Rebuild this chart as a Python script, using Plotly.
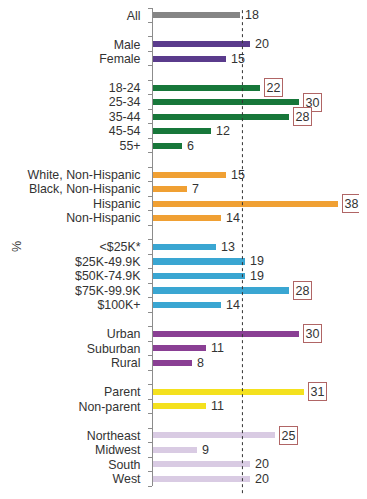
import plotly.graph_objects as go

# ---- data ----
group_labels = [
    ["All"],
    ["Male", "Female"],
    ["18-24", "25-34", "35-44", "45-54", "55+"],
    ["White, Non-Hispanic", "Black, Non-Hispanic", "Hispanic", "Non-Hispanic"],
    ["<$25K*", "$25K-49.9K", "$50K-74.9K", "$75K-99.9K", "$100K+"],
    ["Urban", "Suburban", "Rural"],
    ["Parent", "Non-parent"],
    ["Northeast", "Midwest", "South", "West"],
]
group_values = [
    [18],
    [20, 15],
    [22, 30, 28, 12, 6],
    [15, 7, 38, 14],
    [13, 19, 19, 28, 14],
    [30, 11, 8],
    [31, 11],
    [25, 9, 20, 20],
]
group_colors = ["#858585", "#5a3b8c", "#17773a", "#f0a033", "#3aa6d2",
                "#8a3f94", "#f4e11e", "#d9cbe3"]
average_line = 18.4
highlight_threshold = 22

fig = go.Figure()

pos = 0
tickvals, ticktext = [], []
annotations = []
for gi, (labs, vals, col) in enumerate(zip(group_labels, group_values, group_colors)):
    ys = []
    for lab, v in zip(labs, vals):
        ys.append(pos)
        tickvals.append(pos)
        ticktext.append(lab)
        boxed = v >= highlight_threshold
        annotations.append(dict(
            x=v, y=pos, xref="x", yref="y", text=str(v), showarrow=False,
            xanchor="left", yanchor="middle",
            xshift=4 if boxed else 5,
            font=dict(size=12.5, color="#333333", family="Liberation Sans, Arial"),
            bordercolor="#b06565" if boxed else None,
            borderwidth=1 if boxed else 0,
            borderpad=1.5 if boxed else 0,
            bgcolor="white" if boxed else None,
        ))
        pos += 1
    fig.add_trace(go.Bar(
        x=vals, y=ys, orientation="h", marker=dict(color=col, line=dict(width=0)),
        width=0.42, showlegend=False, hoverinfo="skip",
    ))
    pos += 1  # gap slot

last_slot = tickvals[-1]
minor_vals = [i - 0.5 for i in range(last_slot + 2)]

fig.add_shape(type="line", x0=average_line, x1=average_line, xref="x",
              y0=-0.015, y1=1.01, yref="paper",
              line=dict(color="#333333", width=1, dash="3px,3px"), layer="above")

annotations.append(dict(
    x=0, y=0.5, xref="paper", yref="paper", text="%", showarrow=False,
    textangle=-90, xanchor="center", yanchor="middle", xshift=-136,
    font=dict(size=12.5, color="#333333", family="Liberation Sans, Arial"),
))

# page body has an 8px default margin, so the figure is sized to fit the window
fig.update_layout(
    width=359, height=491,
    margin=dict(l=145, r=5, t=0, b=13),
    paper_bgcolor="white", plot_bgcolor="white",
    bargap=0,
    annotations=annotations,
    font=dict(family="Liberation Sans, Arial", color="#333333"),
    xaxis=dict(range=[0, 43], visible=False, fixedrange=True),
    yaxis=dict(
        range=[last_slot + 0.5, -0.5], tickmode="array", tickvals=tickvals,
        ticktext=ticktext, ticks="", showgrid=False, zeroline=False,
        showline=True, linecolor="#8c8c8c", linewidth=1,
        ticklabelstandoff=9,
        tickfont=dict(size=12.4, color="#333333", family="Liberation Sans, Arial"),
        minor=dict(tickmode="array", tickvals=minor_vals, ticks="outside",
                   ticklen=4, tickcolor="#8c8c8c", showgrid=False),
        automargin=False,
    ),
)

fig.write_html("out.html")
